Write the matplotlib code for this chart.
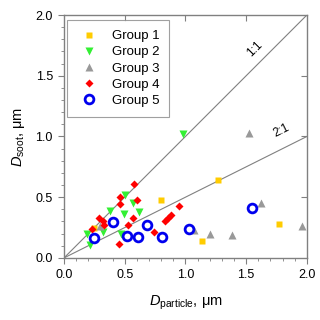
import matplotlib
matplotlib.use("Agg")
import matplotlib.pyplot as plt
from matplotlib.ticker import MultipleLocator, FormatStrFormatter

plt.rcParams['font.family'] = ['Liberation Sans', 'DejaVu Sans']
plt.rcParams['mathtext.fontset'] = 'custom'
plt.rcParams['mathtext.rm'] = 'Liberation Sans'
plt.rcParams['mathtext.it'] = 'Liberation Sans:italic'

# Data (D_particle, D_soot) in micrometres
g1_x = [0.25, 0.80, 1.14, 1.27, 1.77]
g1_y = [0.25, 0.48, 0.14, 0.64, 0.28]

g2_x = [0.98, 0.505, 0.565, 0.38, 0.49, 0.615, 0.32, 0.19, 0.47, 0.21]
g2_y = [1.02, 0.52, 0.455, 0.39, 0.365, 0.38, 0.21, 0.20, 0.20, 0.11]

g3_x = [0.30, 1.07, 1.20, 1.38, 1.52, 1.62, 1.96]
g3_y = [0.26, 0.23, 0.20, 0.185, 1.03, 0.45, 0.265]

g4_x = [0.576, 0.46, 0.60, 0.46, 0.29, 0.325, 0.33, 0.565, 0.53, 0.74, 0.23,
        0.45, 0.95, 0.88, 0.855, 0.83]
g4_y = [0.61, 0.50, 0.48, 0.44, 0.325, 0.30, 0.27, 0.325, 0.275, 0.21, 0.235,
        0.115, 0.43, 0.35, 0.325, 0.30]

g5_x = [0.40, 0.68, 0.25, 0.52, 0.61, 0.81, 1.03, 1.55]
g5_y = [0.295, 0.27, 0.16, 0.18, 0.17, 0.175, 0.24, 0.415]

ref_x = [0.0, 2.0]
ratio_11 = [0.0, 2.0]
ratio_21 = [0.0, 1.0]

fig = plt.figure(figsize=(3.2, 3.2), dpi=100)
ax = fig.add_axes([0.2, 0.194, 0.759, 0.759])

lc = '#808080'
ax.plot(ref_x, ratio_11, color=lc, lw=0.8, zorder=1)
ax.plot(ref_x, ratio_21, color=lc, lw=0.8, zorder=1)

ax.plot(g1_x, g1_y, 's', color='#FFCC00', ms=4.5, mec='none', label='Group 1', zorder=3)
ax.plot(g2_x, g2_y, 'v', color='#33F033', ms=5.5, mec='none', label='Group 2', zorder=3)
ax.plot(g3_x, g3_y, '^', color='#999999', ms=5.5, mec='none', label='Group 3', zorder=3)
ax.plot(g4_x, g4_y, 'D', color='#FF0000', ms=4.5, mec='none', label='Group 4', zorder=4)
ax.plot(g5_x, g5_y, 'o', mfc='white', mec='#0000EE', mew=2.0, ms=6.3, label='Group 5', zorder=5)

ax.text(1.57, 1.72, '1:1', rotation=45, ha='center', va='center', fontsize=8.5)
ax.text(1.79, 1.05, '2:1', rotation=26.6, ha='center', va='center', fontsize=8.5)

ax.set_xlim(0, 2)
ax.set_ylim(0, 2)
ax.xaxis.set_major_locator(MultipleLocator(0.5))
ax.yaxis.set_major_locator(MultipleLocator(0.5))
ax.xaxis.set_minor_locator(MultipleLocator(0.1))
ax.yaxis.set_minor_locator(MultipleLocator(0.1))
ax.xaxis.set_major_formatter(FormatStrFormatter('%.1f'))
ax.yaxis.set_major_formatter(FormatStrFormatter('%.1f'))

for s in ax.spines.values():
    s.set_color(lc)
    s.set_linewidth(1.0)
ax.tick_params(which='major', direction='out', length=4, color=lc, labelsize=9, pad=4)
ax.tick_params(which='minor', direction='out', length=2, color=lc)

ax2 = ax.secondary_xaxis('top')
ax2.set_xticks([0.5, 1.0, 1.5])
ax2.tick_params(direction='in', length=4, color=lc, labeltop=False)
ax2.spines['top'].set_visible(False)
ay2 = ax.secondary_yaxis('right')
ay2.set_yticks([0.5, 1.0, 1.5])
ay2.tick_params(direction='in', length=4, color=lc, labelright=False)
ay2.spines['right'].set_visible(False)

ax.set_xlabel(r'$D_{\mathrm{particle}}$, μm', fontsize=10.5, labelpad=9)
ax.set_ylabel(r'$D_{\mathrm{soot}}$, μm', fontsize=10.5, labelpad=6)

leg = ax.legend(loc='upper left', bbox_to_anchor=(0.012, 0.979), borderaxespad=0,
                fontsize=9.5, frameon=True, fancybox=False,
                edgecolor='#888888', handletextpad=0.85, borderpad=0.75,
                labelspacing=0.3, handlelength=1.8)
leg.get_frame().set_linewidth(0.8)

fig.savefig('out.png', dpi=100)
